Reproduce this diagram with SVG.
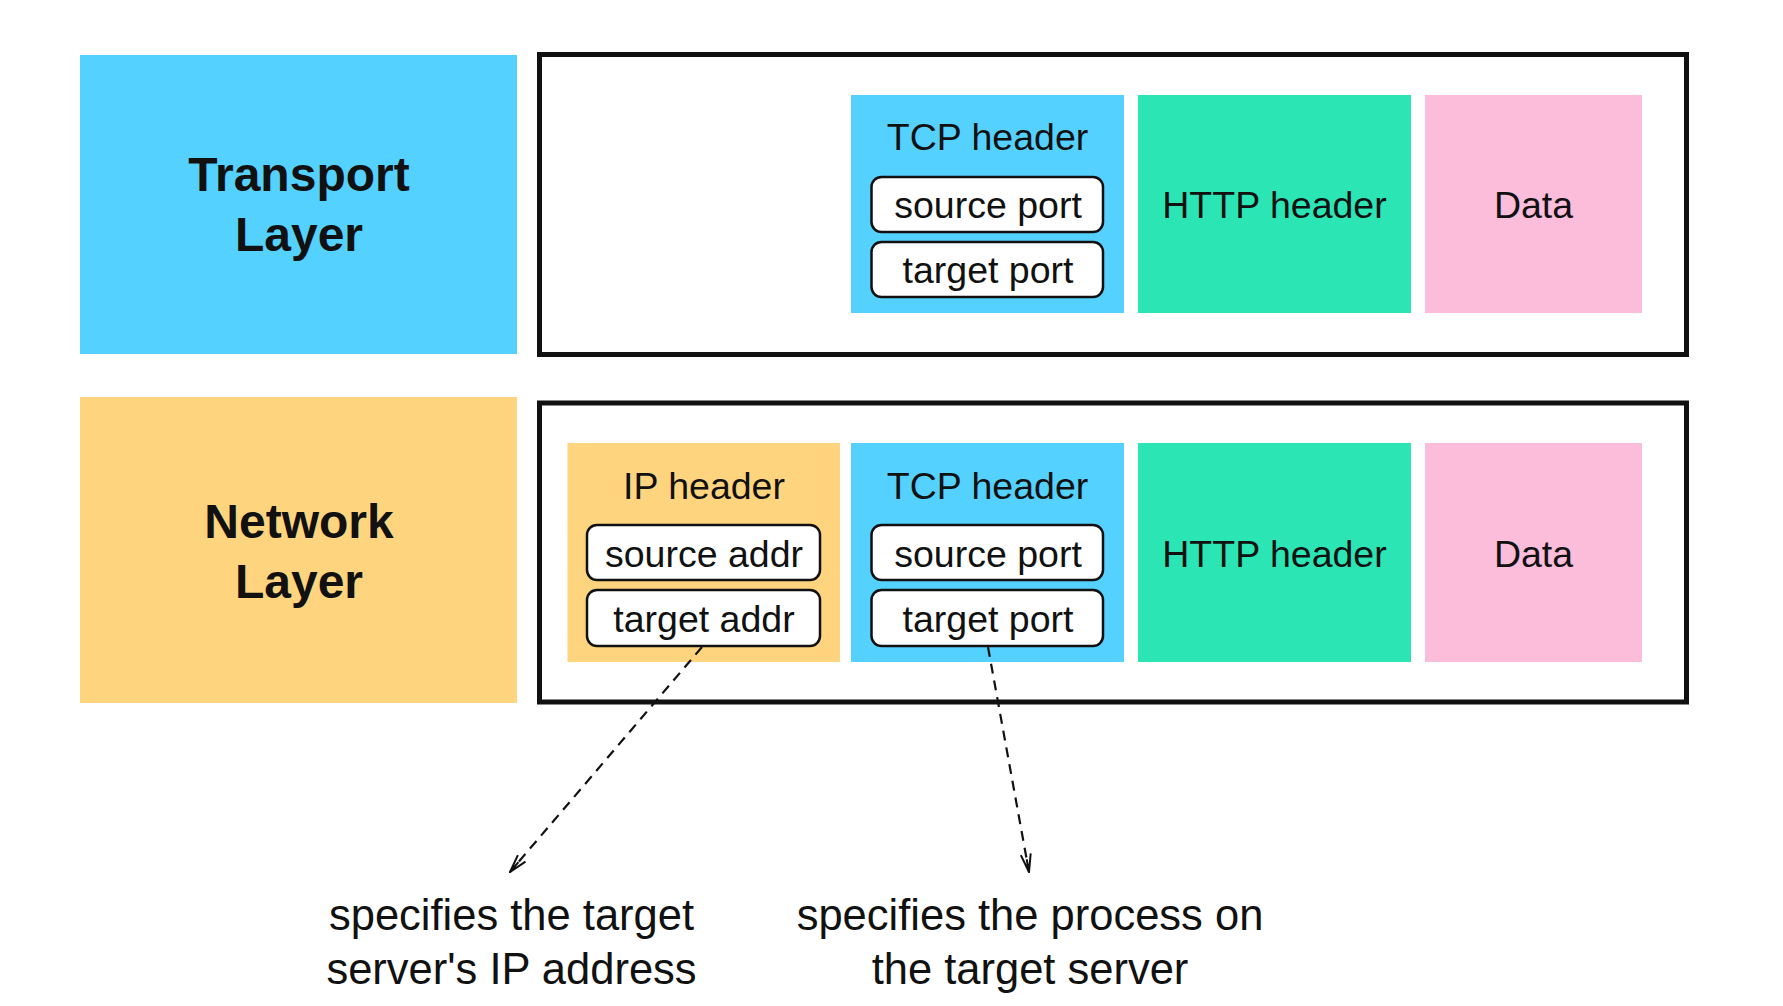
<svg xmlns="http://www.w3.org/2000/svg" width="1783" height="1006" viewBox="0 0 1783 1006">
<style>
  text { font-family: "Liberation Sans", Arial, sans-serif; fill: #111; text-anchor: middle; }
  .layer { font-size: 48px; font-weight: bold; }
  .lbl { font-size: 37.5px; }
  .note { font-size: 43.5px; }
  .frame { fill: #fff; stroke: #111; stroke-width: 5; }
  .field { fill: #fff; stroke: #111; stroke-width: 2.5; }
  .blue { fill: #54D1FE; }
  .yellow { fill: #FED57E; }
  .green { fill: #2BE5B4; }
  .pink { fill: #FCBDDB; }
  .conn { fill: none; stroke: #111; stroke-width: 2.2; stroke-dasharray: 10 7; }
</style>
<defs>
  <marker id="arr" viewBox="0 0 20 12" refX="19" refY="6" markerWidth="20" markerHeight="12" markerUnits="userSpaceOnUse" orient="auto">
    <path d="M1,1 L19,6 L1,11 M6,6 L19,6" fill="none" stroke="#111" stroke-width="2"/>
  </marker>
</defs>
<rect width="1783" height="1006" fill="#fff"/>

<g id="transport-layer">
  <rect class="blue" x="80" y="55" width="437" height="299"/>
  <text class="layer" x="299" y="191">Transport</text>
  <text class="layer" x="299" y="251">Layer</text>
</g>
<g id="transport-frame">
  <rect class="frame" x="539.5" y="54.5" width="1147" height="300"/>
</g>
<g id="t-tcp">
  <rect class="blue" x="851" y="95" width="273" height="218"/>
  <text class="lbl" x="987.5" y="150">TCP header</text>
  <rect class="field" x="871.5" y="177" width="231.5" height="55" rx="10"/>
  <text class="lbl" x="988" y="218">source port</text>
  <rect class="field" x="871.5" y="242" width="231.5" height="55" rx="10"/>
  <text class="lbl" x="988" y="283">target port</text>
</g>
<g id="t-http">
  <rect class="green" x="1138" y="95" width="273" height="218"/>
  <text class="lbl" x="1274.5" y="218">HTTP header</text>
</g>
<g id="t-data">
  <rect class="pink" x="1425" y="95" width="217" height="218"/>
  <text class="lbl" x="1533.5" y="218">Data</text>
</g>

<g id="network-layer">
  <rect class="yellow" x="80" y="397" width="437" height="306"/>
  <text class="layer" x="299" y="538">Network</text>
  <text class="layer" x="299" y="598">Layer</text>
</g>
<g id="network-frame">
  <rect class="frame" x="539.5" y="403" width="1147" height="299"/>
</g>
<g id="n-ip">
  <rect class="yellow" x="567.5" y="443" width="272.5" height="219"/>
  <text class="lbl" x="704" y="499">IP header</text>
  <rect class="field" x="587" y="525" width="233" height="55" rx="10"/>
  <text class="lbl" x="704" y="567">source addr</text>
  <rect class="field" x="587" y="590" width="233" height="56" rx="10"/>
  <text class="lbl" x="704" y="632">target addr</text>
</g>
<g id="n-tcp">
  <rect class="blue" x="851" y="443" width="273" height="219"/>
  <text class="lbl" x="987.5" y="499">TCP header</text>
  <rect class="field" x="871.5" y="525" width="231.5" height="55" rx="10"/>
  <text class="lbl" x="988" y="567">source port</text>
  <rect class="field" x="871.5" y="590" width="231.5" height="56" rx="10"/>
  <text class="lbl" x="988" y="632">target port</text>
</g>
<g id="n-http">
  <rect class="green" x="1138" y="443" width="273" height="219"/>
  <text class="lbl" x="1274.5" y="567">HTTP header</text>
</g>
<g id="n-data">
  <rect class="pink" x="1425" y="443" width="217" height="219"/>
  <text class="lbl" x="1533.5" y="567">Data</text>
</g>

<g id="connectors">
  <line class="conn" x1="702" y1="647" x2="510" y2="872" marker-end="url(#arr)"/>
  <line class="conn" x1="988" y1="647" x2="1029" y2="872" marker-end="url(#arr)"/>
</g>

<g id="note-ip">
  <text class="note" x="511.5" y="930">specifies the target</text>
  <text class="note" x="511.5" y="984">server's IP address</text>
</g>
<g id="note-port">
  <text class="note" x="1030" y="930">specifies the process on</text>
  <text class="note" x="1030" y="984">the target server</text>
</g>
</svg>
